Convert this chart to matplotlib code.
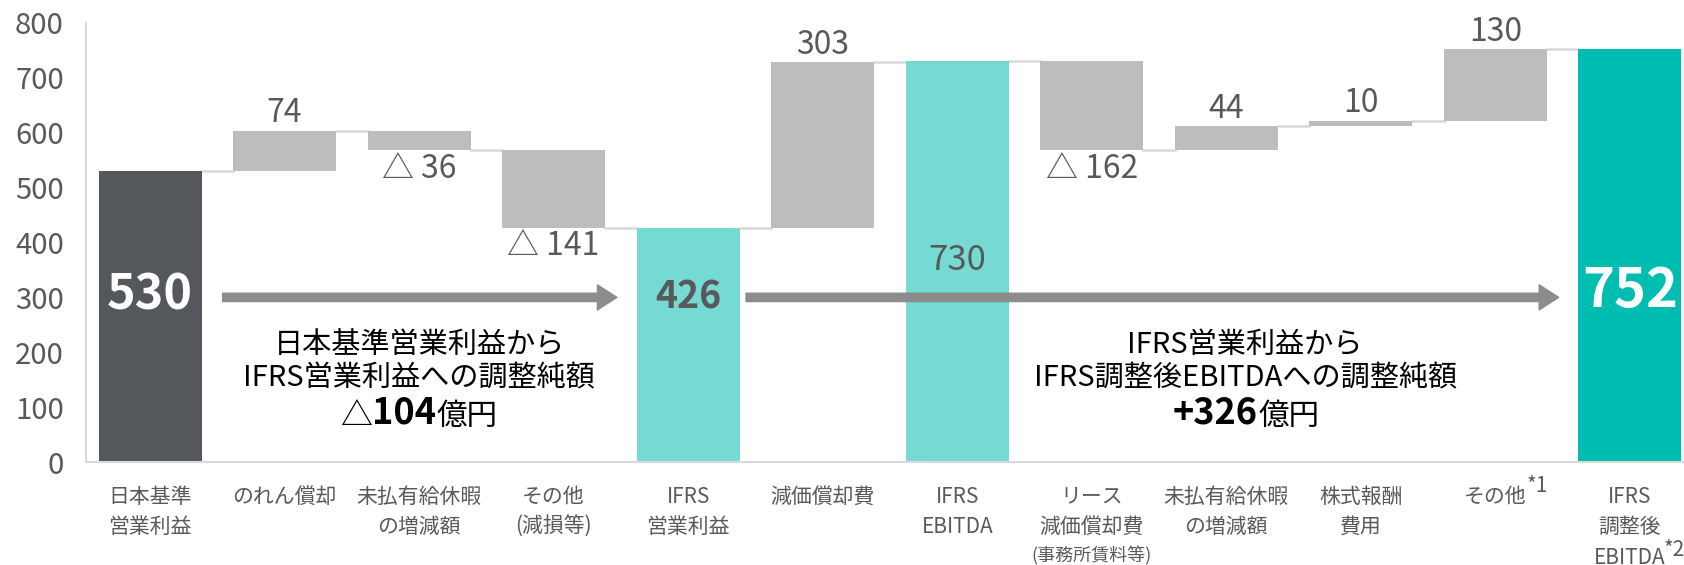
import matplotlib.pyplot as plt
from matplotlib.patches import FancyArrowPatch

plt.rcParams['font.family'] = ['Noto Sans CJK JP', 'DejaVu Sans']

# ---- data (億円) ----
labels = ["日本基準\n営業利益", "のれん償却", "未払有給休暇\nの増減額", "その他\n(減損等)",
          "IFRS\n営業利益", "減価償却費", "IFRS\nEBITDA", "リース\n減価償却費",
          "未払有給休暇\nの増減額", "株式報酬\n費用", "その他", "IFRS\n調整後\nEBITDA"]
values = [530, 74, -36, -141, 426, 303, 730, -162, 44, 10, 130, 752]
kinds = ["total", "step", "step", "step", "sub", "step", "sub",
         "step", "step", "step", "step", "total"]

bridge1_text = ["日本基準営業利益から", "IFRS営業利益への調整純額"]
bridge1_value = -104
bridge2_text = ["IFRS営業利益から", "IFRS調整後EBITDAへの調整純額"]
bridge2_value = 326

# ---- colours ----
c_dark = "#54575b"
c_teal_light = "#75dad3"
c_teal = "#00bdb2"
c_step = "#bcbdbc"
c_line = "#d9d9d9"
c_text = "#595959"
c_arrow = "#8c8c8c"

# ---- build the waterfall ----
bottoms, heights, colors, levels = [], [], [], []
running = 0
for i, (v, k) in enumerate(zip(values, kinds)):
    if k == "step":
        bottoms.append(running + min(v, 0))
        heights.append(abs(v))
        colors.append(c_step)
        running += v
    else:
        bottoms.append(0)
        heights.append(v)
        running = v
        if k == "sub":
            colors.append(c_teal_light)
        elif i == 0:
            colors.append(c_dark)
        else:
            colors.append(c_teal)
    levels.append(running)

x = list(range(len(values)))
width = 0.766

fig = plt.figure(figsize=(16.84, 5.65), dpi=100)
ax = fig.add_axes([86 / 1684, 103 / 565, (1694 - 86) / 1684, 439 / 565])

ax.bar(x, heights, bottom=bottoms, width=width, color=colors, zorder=2)

# connector lines between neighbouring bars
for i in range(len(values) - 1):
    ax.plot([i + width / 2, i + 1 - width / 2], [levels[i], levels[i]],
            color=c_line, lw=1.8, zorder=1)

# value labels on the step bars
for i, (v, k) in enumerate(zip(values, kinds)):
    if k != "step":
        continue
    if v >= 0:
        ax.annotate(f"{v}", (i, bottoms[i] + heights[i]), xytext=(0, 1),
                    textcoords="offset points", ha="center", va="bottom",
                    fontsize=23, color=c_text)
    else:
        ax.annotate(f"△ {abs(v)}", (i, bottoms[i]), xytext=(0, -2),
                    textcoords="offset points", ha="center", va="top",
                    fontsize=23, color=c_text)

# labels inside the total bars
ax.text(0, 305, f"{values[0]}", ha="center", va="center", fontsize=35,
        fontweight="bold", color="white", zorder=3)
ax.text(4, 300, f"{values[4]}", ha="center", va="center", fontsize=27,
        fontweight="bold", color=c_text, zorder=3)
ax.text(6, 367, f"{values[6]}", ha="center", va="center", fontsize=25,
        color=c_text, zorder=3)
ax.text(11, 310, f"{values[11]}", ha="center", va="center", fontsize=39,
        fontweight="bold", color="white", zorder=3)

# bridge arrows
for x0, x1 in [(0.54, 3.47), (4.43, 10.47)]:
    arr = FancyArrowPatch((x0, 300), (x1, 300),
                          arrowstyle="simple,head_length=14,head_width=18,tail_width=6",
                          mutation_scale=1, color=c_arrow, shrinkA=0, shrinkB=0, zorder=4)
    ax.add_patch(arr)


def bridge_note(xc, xnum, lines, value):
    ax.text(xc, 214, lines[0], ha="center", va="center", fontsize=21, color="black")
    ax.text(xc, 152, lines[1], ha="center", va="center", fontsize=21, color="black")
    num = f"+{value}" if value > 0 else f"{abs(value)}"
    t = ax.text(xnum, 89, num, ha="center", va="center", fontsize=26,
                fontweight="bold", color="black")
    if value < 0:
        ax.annotate("△", xy=(0, 0), xycoords=t, ha="right", va="bottom",
                    fontsize=23, color="black")
    ax.annotate("億円", xy=(1, 0), xycoords=t, ha="left", va="bottom",
                fontsize=22, color="black")


bridge_note(2.0, 1.89, bridge1_text, bridge1_value)
bridge_note(8.14, 7.92, bridge2_text, bridge2_value)

# axes styling
ax.set_xlim(-0.476, 11.476)
ax.set_ylim(0, 800)
ax.set_yticks(range(0, 801, 100))
ax.set_xticks(x)
ax.set_xticklabels(labels, linespacing=1.5)
ax.tick_params(axis="y", length=0, pad=16, labelsize=21, labelcolor=c_text)
ax.tick_params(axis="x", length=0, pad=17, labelsize=15, labelcolor=c_text)
for side in ["top", "right"]:
    ax.spines[side].set_visible(False)
for side in ["left", "bottom"]:
    ax.spines[side].set_color(c_line)
    ax.spines[side].set_linewidth(1.5)

# extra label pieces: small third line and footnote marks
xt = ax.get_xaxis_transform()
ax.text(7, -0.213, "(事務所賃料等)", transform=xt, ha="center", va="center",
        fontsize=13, color=c_text)
ax.text(10.23, -0.055, "*1", transform=xt, ha="left", va="center",
        fontsize=15, color=c_text)
ax.text(11.25, -0.2, "*2", transform=xt, ha="left", va="center",
        fontsize=15, color=c_text)

plt.savefig("out.png", dpi=100)
